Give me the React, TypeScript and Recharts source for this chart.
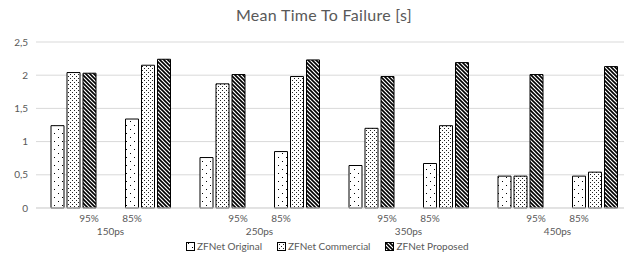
import React from "react";
import { BarChart, Bar, XAxis, YAxis, CartesianGrid } from "recharts";

const groups = ["150ps", "250ps", "350ps", "450ps"];
const levels = ["95%", "85%"];
const original = [1.24, 1.34, 0.76, 0.85, 0.64, 0.67, 0.48, 0.48];
const commercial = [2.04, 2.15, 1.87, 1.98, 1.2, 1.24, 0.48, 0.54];
const proposed = [2.03, 2.24, 2.01, 2.23, 1.98, 2.19, 2.01, 2.13];
const yTicks = [0, 0.5, 1, 1.5, 2, 2.5];
const seriesNames = ["ZFNet Original", "ZFNet Commercial", "ZFNet Proposed"];

const data = original.map((v, i) => ({
  key: groups[Math.floor(i / 2)] + "-" + levels[i % 2],
  level: levels[i % 2],
  group: groups[Math.floor(i / 2)],
  original: v,
  commercial: commercial[i],
  proposed: proposed[i],
}));

const TXT = "#595959";
const FONT = "Lato, 'Open Sans', sans-serif";
const BAND = 74.5;

const Tick = (props: any) => {
  const { x, y, index } = props;
  const row = data[index];
  const even = index % 2 === 0;
  const lx = even ? x + BAND / 2 - 21.5 : x - BAND / 2 + 21.5;
  return (
    <g>
      <text x={lx} y={y + 6} textAnchor="middle" fontSize={10} fill={TXT} fontFamily={FONT}>
        {row.level}
      </text>
      {!even && (
        <text x={x - BAND / 2} y={y + 19} textAnchor="middle" fontSize={10} fill={TXT} fontFamily={FONT}>
          {row.group}
        </text>
      )}
    </g>
  );
};

const Defs = () => (
  <svg width={0} height={0} style={{ position: "absolute" }}>
    <defs>
      <pattern id="pOrig" patternUnits="userSpaceOnUse" width={8} height={8}>
        <rect width={8} height={8} fill="#fff" />
        <rect x={2} y={1} width={1} height={1} fill="#000" />
        <rect x={6} y={5} width={1} height={1} fill="#000" />
      </pattern>
      <pattern id="pComm" patternUnits="userSpaceOnUse" width={4} height={4}>
        <rect width={4} height={4} fill="#fff" />
        <rect x={0} y={0} width={1} height={1} fill="#222" />
        <rect x={2} y={2} width={1} height={1} fill="#222" />
      </pattern>
      <pattern id="pProp" patternUnits="userSpaceOnUse" width={4} height={4}>
        <rect width={4} height={4} fill="#fff" />
        <path d="M-1,-1 L5,5 M-1,3 L1,5 M3,-1 L5,1" stroke="#000" strokeWidth={1.6} />
      </pattern>
    </defs>
  </svg>
);

const fills = ["url(#pOrig)", "url(#pComm)", "url(#pProp)"];

export default function App() {
  return (
    <div style={{ position: "absolute", left: 0, top: 0, width: 624, height: 253, overflow: "hidden", background: "#fff" }}>
      <Defs />
      <div
        style={{
          position: "absolute",
          left: 0,
          top: 5,
          width: 648,
          textAlign: "center",
          fontFamily: FONT,
          fontSize: 16,
          letterSpacing: 0.3,
          color: TXT,
        }}
      >
        Mean Time To Failure [s]
      </div>
      <BarChart
        width={640}
        height={253}
        data={data}
        margin={{ top: 42, right: 8, left: 0, bottom: 0 }}
        barGap={3}
        barSize={13}
      >
        <CartesianGrid vertical={false} stroke="#d9d9d9" />
        <XAxis
          dataKey="key"
          height={45}
          axisLine={{ stroke: "#d9d9d9" }}
          tickLine={false}
          tick={<Tick />}
          interval={0}
        />
        <YAxis
          width={36}
          domain={[0, 2.5]}
          ticks={yTicks}
          axisLine={false}
          tickLine={false}
          tick={{ fontSize: 10, fill: TXT, fontFamily: FONT }}
          tickFormatter={(v: number) => String(v).replace(".", ",")}
        />
        <Bar dataKey="original" name={seriesNames[0]} fill={fills[0]} stroke="#000" strokeWidth={1} isAnimationActive={false} />
        <Bar dataKey="commercial" name={seriesNames[1]} fill={fills[1]} stroke="#000" strokeWidth={1} isAnimationActive={false} />
        <Bar dataKey="proposed" name={seriesNames[2]} fill={fills[2]} stroke="#000" strokeWidth={1} isAnimationActive={false} />
      </BarChart>
      <div
        style={{
          position: "absolute",
          left: 186,
          top: 240,
          display: "flex",
          alignItems: "center",
          fontFamily: FONT,
          fontSize: 10,
          color: TXT,
        }}
      >
        {seriesNames.map((n, i) => (
          <div key={n} style={{ display: "flex", alignItems: "center", marginRight: 15 }}>
            <svg width={9} height={9} style={{ marginRight: 2 }}>
              <rect x={0.5} y={0.5} width={8} height={8} fill={fills[i]} stroke="#000" />
            </svg>
            <span>{n}</span>
          </div>
        ))}
      </div>
    </div>
  );
}
